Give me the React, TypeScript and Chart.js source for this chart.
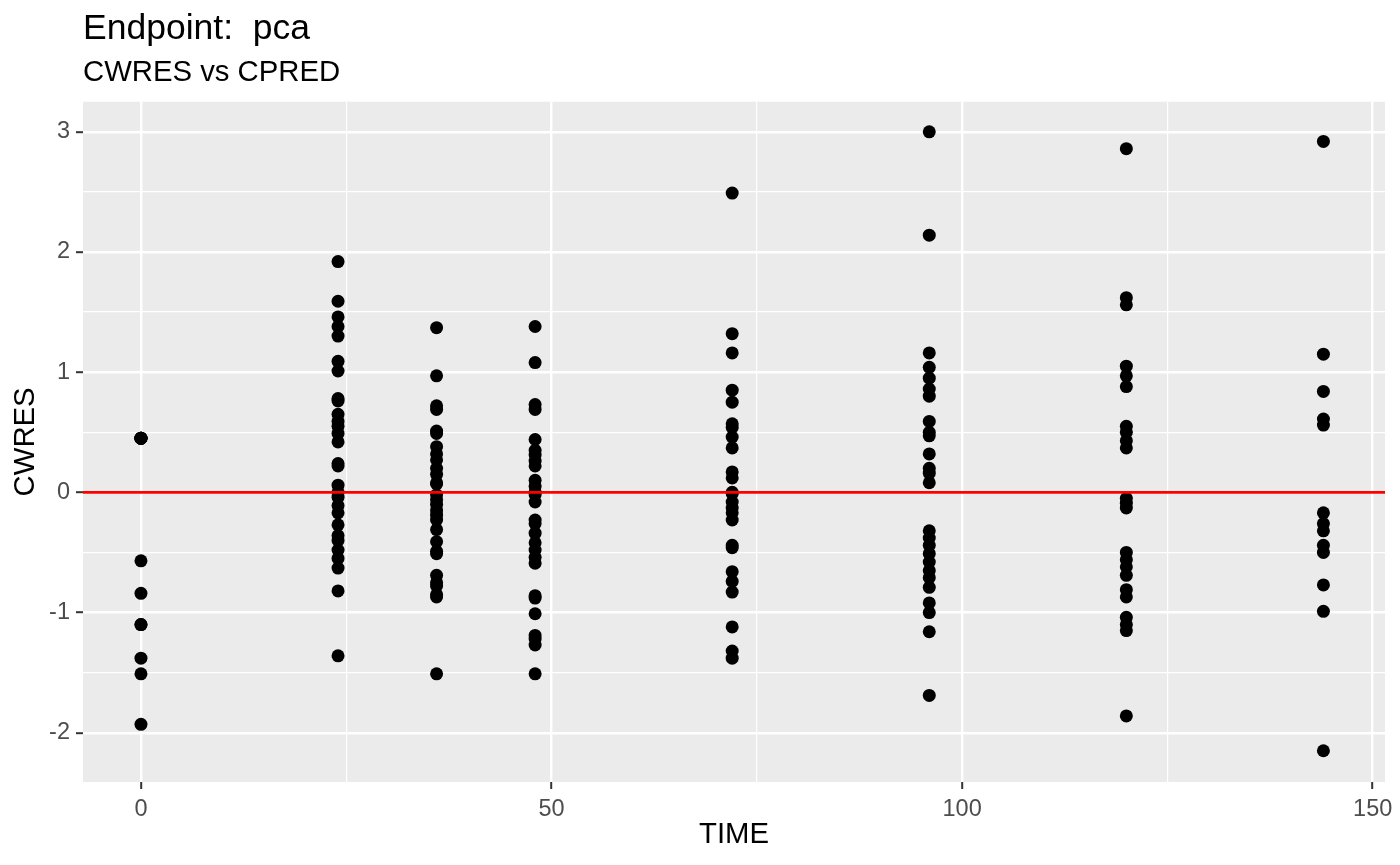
import { useEffect, useRef } from "react"
import { Chart, registerables, Plugin } from "chart.js"

Chart.register(...registerables)

// CWRES values, one list per nominal time
const timePoints = [0, 24, 36, 48, 72, 96, 120, 144]

const cwres0 = [0.45, 0.45, 0.45, 0.45, 0.45, 0.45, -0.57, -0.84, -1.1, -1.1, -1.38, -1.51, -1.93]
const cwres24 = [
  1.92, 1.59, 1.46, 1.38, 1.3, 1.09, 1.01, 0.78, 0.76, 0.65, 0.59, 0.55, 0.49, 0.42, 0.24, 0.22, 0.06, 0.0,
  -0.04, -0.11, -0.17, -0.27, -0.36, -0.4, -0.48, -0.55, -0.63, -0.82, -1.36,
]
const cwres36 = [
  1.37, 0.97, 0.72, 0.69, 0.51, 0.49, 0.38, 0.32, 0.27, 0.2, 0.15, 0.08, 0.07, -0.02, -0.06, -0.1, -0.15,
  -0.19, -0.23, -0.31, -0.41, -0.49, -0.51, -0.69, -0.75, -0.78, -0.85, -0.87, -1.51,
]
const cwres48 = [
  1.38, 1.08, 0.73, 0.69, 0.44, 0.35, 0.31, 0.26, 0.22, 0.1, 0.05, 0.0, -0.02, -0.08, -0.23, -0.26, -0.34,
  -0.42, -0.48, -0.54, -0.59, -0.86, -0.88, -1.01, -1.19, -1.22, -1.27, -1.51,
]
const cwres72 = [
  2.49, 1.32, 1.16, 0.85, 0.75, 0.57, 0.54, 0.46, 0.37, 0.17, 0.12, 0.0, -0.01, -0.08, -0.13, -0.17, -0.23,
  -0.44, -0.46, -0.66, -0.74, -0.83, -1.12, -1.32, -1.38,
]
const cwres96 = [
  3.0, 2.14, 1.16, 1.04, 0.95, 0.86, 0.8, 0.59, 0.5, 0.47, 0.32, 0.2, 0.16, 0.08, -0.32, -0.38, -0.44, -0.51,
  -0.58, -0.65, -0.71, -0.79, -0.92, -1.0, -1.16, -1.69,
]
const cwres120 = [
  2.86, 1.62, 1.56, 1.05, 0.97, 0.88, 0.55, 0.5, 0.43, 0.37, -0.05, -0.09, -0.13, -0.5, -0.56, -0.62, -0.69,
  -0.81, -0.87, -1.04, -1.1, -1.15, -1.86,
]
const cwres144 = [2.92, 1.15, 0.84, 0.61, 0.56, -0.17, -0.26, -0.32, -0.44, -0.5, -0.77, -0.99, -2.15]

const cwresByTime = [cwres0, cwres24, cwres36, cwres48, cwres72, cwres96, cwres120, cwres144]

// axes
const xLimits = [-7.06, 151.5]
const yLimits = [-2.41, 3.25]
const xGrid = [0, 25, 50, 75, 100, 125, 150]
const yGrid = [-2, -1.5, -1, -0.5, 0, 0.5, 1, 1.5, 2, 2.5, 3]
const xMajorStep = 50
const yMajorStep = 1
const referenceY = 0

const FONT = "'Liberation Sans', Arial, Helvetica, sans-serif"

const panelBackground: Plugin = {
  id: "panelBackground",
  beforeDraw(chart) {
    const { ctx, chartArea } = chart
    ctx.save()
    ctx.fillStyle = "#EBEBEB"
    ctx.fillRect(chartArea.left, chartArea.top, chartArea.right - chartArea.left, chartArea.bottom - chartArea.top)
    ctx.restore()
  },
}

const referenceLine: Plugin = {
  id: "referenceLine",
  afterDatasetsDraw(chart) {
    const { ctx, chartArea, scales } = chart
    const y = scales.y.getPixelForValue(referenceY)
    ctx.save()
    ctx.strokeStyle = "#FF0000"
    ctx.lineWidth = 2.8
    ctx.beginPath()
    ctx.moveTo(chartArea.left, y)
    ctx.lineTo(chartArea.right, y)
    ctx.stroke()
    ctx.restore()
  },
}

const isMajor = (v: number, step: number) => Math.abs(v / step - Math.round(v / step)) < 1e-6

export default function App() {
  const chartRef = useRef<HTMLCanvasElement>(null)
  const chartInstance = useRef<Chart | null>(null)

  useEffect(() => {
    if (!chartRef.current) return
    if (chartInstance.current) chartInstance.current.destroy()

    const points = timePoints.flatMap((t, i) => cwresByTime[i].map((v) => ({ x: t, y: v })))

    chartInstance.current = new Chart(chartRef.current, {
      type: "scatter",
      data: {
        datasets: [
          {
            label: "CWRES",
            data: points,
            backgroundColor: "#000000",
            borderWidth: 0,
            pointRadius: 6.5,
            pointHoverRadius: 6.5,
          },
        ],
      },
      plugins: [panelBackground, referenceLine],
      options: {
        animation: false,
        responsive: true,
        maintainAspectRatio: false,
        events: [],
        layout: { padding: { left: 0, right: 15, top: 0, bottom: 0 } },
        plugins: {
          legend: { display: false },
          tooltip: { enabled: false },
          title: {
            display: true,
            text: "Endpoint:  pca",
            align: "start",
            fullSize: false,
            color: "#000000",
            font: { family: FONT, size: 35.5, weight: "normal" },
            padding: { top: 8, bottom: 0 },
          },
          subtitle: {
            display: true,
            text: "CWRES vs CPRED",
            align: "start",
            fullSize: false,
            color: "#000000",
            font: { family: FONT, size: 29.3, weight: "normal" },
            padding: { top: 5, bottom: 11 },
          },
        },
        scales: {
          x: {
            type: "linear",
            min: xLimits[0],
            max: xLimits[1],
            afterBuildTicks: (axis) => {
              axis.ticks = xGrid.map((v) => ({ value: v }))
            },
            afterFit: (axis) => {
              axis.height = 83
              axis.paddingLeft = 0
              axis.paddingRight = 0
            },
            border: { display: false },
            grid: {
              color: "#FFFFFF",
              lineWidth: (ctx) => (isMajor(ctx.tick.value, xMajorStep) ? 2.4 : 1.2),
              tickColor: (ctx) => (isMajor(ctx.tick.value, xMajorStep) ? "#333333" : "rgba(0,0,0,0)"),
              tickLength: 7,
              tickWidth: 2,
            },
            ticks: {
              autoSkip: false,
              maxRotation: 0,
              padding: 6,
              color: "#4D4D4D",
              font: { family: FONT, size: 23.5 },
              callback: (value) => (isMajor(Number(value), xMajorStep) ? String(value) : ""),
            },
            title: {
              display: true,
              text: "TIME",
              color: "#000000",
              font: { family: FONT, size: 29.3 },
              padding: { top: 0, bottom: 13 },
            },
          },
          y: {
            type: "linear",
            min: yLimits[0],
            max: yLimits[1],
            afterBuildTicks: (axis) => {
              axis.ticks = yGrid.map((v) => ({ value: v }))
            },
            afterFit: (axis) => {
              axis.width = 83
              axis.paddingTop = 0
              axis.paddingBottom = 0
            },
            border: { display: false },
            grid: {
              color: "#FFFFFF",
              lineWidth: (ctx) => (isMajor(ctx.tick.value, yMajorStep) ? 2.4 : 1.2),
              tickColor: (ctx) => (isMajor(ctx.tick.value, yMajorStep) ? "#333333" : "rgba(0,0,0,0)"),
              tickLength: 7,
              tickWidth: 2,
            },
            ticks: {
              autoSkip: false,
              padding: 6,
              color: "#4D4D4D",
              font: { family: FONT, size: 23.5 },
              callback: (value) => (isMajor(Number(value), yMajorStep) ? String(value) : ""),
            },
            title: {
              display: true,
              text: "CWRES",
              color: "#000000",
              font: { family: FONT, size: 29.3 },
              padding: { top: 8, bottom: 0 },
            },
          },
        },
      },
    })

    return () => {
      if (chartInstance.current) {
        chartInstance.current.destroy()
        chartInstance.current = null
      }
    }
  }, [])

  return (
    <div style={{ position: "absolute", left: 0, top: 0, width: 1400, height: 865, background: "#FFFFFF" }}>
      <canvas ref={chartRef} />
    </div>
  )
}
